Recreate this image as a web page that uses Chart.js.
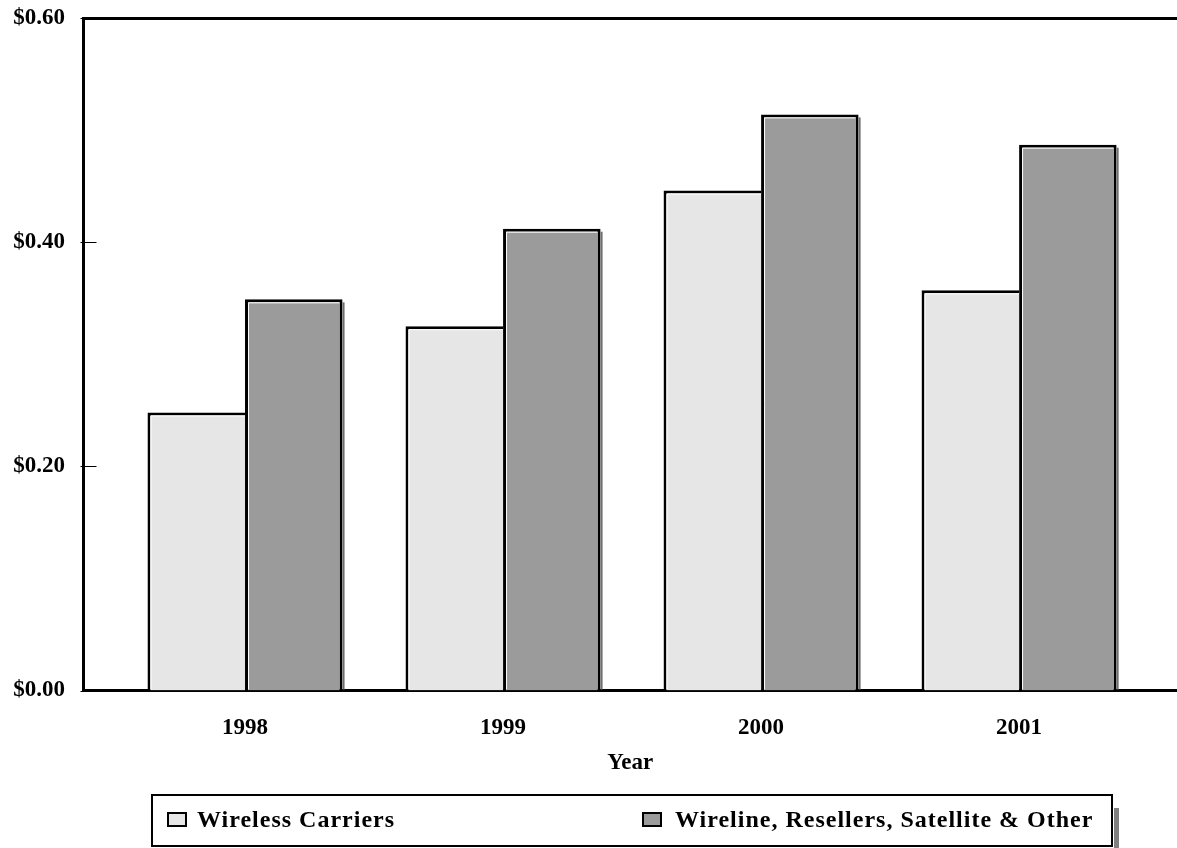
<!DOCTYPE html>
<html><head><meta charset="utf-8">
<script src="https://cdn.jsdelivr.net/npm/chart.js@4.4.1/dist/chart.umd.min.js"></script>
<style>html,body{margin:0;padding:0;background:#fff;overflow:hidden}</style>
</head><body>
<canvas id="c" width="1177" height="848"></canvas>
<script>
// ---- data ----
const years = ['1998', '1999', '2000', '2001'];
const wireless = [0.248, 0.325, 0.446, 0.357];
const wireline = [0.349, 0.412, 0.514, 0.487];
const seriesNames = ['Wireless Carriers', 'Wireline, Resellers, Satellite & Other'];
const yTickValues = [0, 0.2, 0.4, 0.6];
const axisTitle = 'Year';

// ---- style ----
const FONT = '"Liberation Serif", "Times New Roman", serif';
const lightFill = '#e6e6e6';
const darkFill = '#9b9b9b';
const X_MIN = -0.626, X_MAX = 3.612;

const barDecor = {
  id: 'barDecor',
  afterDatasetsDraw(chart) {
    const ctx = chart.ctx;
    ctx.save();
    chart.data.datasets.forEach((ds, di) => {
      const meta = chart.getDatasetMeta(di);
      meta.data.forEach(el => {
        const p = el.getProps(['x', 'y', 'base', 'width'], true);
        const left = p.x - p.width / 2, right = p.x + p.width / 2, top = p.y, base = p.base;
        if (di === 1) {
          ctx.fillStyle = '#6e6e6e';
          ctx.fillRect(right, top + 3, 2, base - top - 4);
        }
        ctx.strokeStyle = '#ffffff';
        ctx.lineWidth = 1;
        ctx.beginPath();
        ctx.moveTo(left + 3.5, base - 1);
        ctx.lineTo(left + 3.5, top + 3.5);
        ctx.lineTo(right - (di === 1 ? 3 : 0), top + 3.5);
        ctx.stroke();
      });
    });
    ctx.restore();
  }
};

const axisExtras = {
  id: 'axisExtras',
  afterDraw(chart) {
    const ctx = chart.ctx, ys = chart.scales.y, a = chart.chartArea;
    ctx.save();
    ctx.strokeStyle = '#000';
    ctx.lineWidth = 1;
    yTickValues.forEach(v => {
      const py = Math.round(ys.getPixelForValue(v)) + 0.5;
      ctx.beginPath();
      ctx.moveTo(a.left - 3, py);
      ctx.lineTo(a.left + 13, py);
      ctx.stroke();
    });
    ctx.restore();
  }
};

const boxLegend = {
  id: 'boxLegend',
  afterDraw(chart) {
    const ctx = chart.ctx;
    ctx.save();
    ctx.fillStyle = '#808080';
    ctx.fillRect(1114, 808, 5, 40);
    ctx.strokeStyle = '#000';
    ctx.lineWidth = 2;
    ctx.fillStyle = '#fff';
    ctx.fillRect(152, 795, 960, 51);
    ctx.strokeRect(152, 795, 960, 51);
    const items = [
      { boxX: 167, textX: 197 },
      { boxX: 642, textX: 675 }
    ];
    ctx.font = 'bold 24px ' + FONT;
    ctx.textBaseline = 'middle';
    ctx.textAlign = 'left';
    if ('letterSpacing' in ctx) ctx.letterSpacing = '1px';
    chart.data.datasets.forEach((ds, i) => {
      const it = items[i];
      ctx.fillStyle = ds.backgroundColor;
      ctx.fillRect(it.boxX, 812, 20, 15);
      ctx.lineWidth = 2;
      ctx.strokeStyle = '#000';
      ctx.strokeRect(it.boxX + 1, 813, 18, 13);
      ctx.fillStyle = '#000';
      ctx.fillText(seriesNames[i], it.textX, 821);
    });
    ctx.restore();
  }
};

const toPts = arr => arr.map((v, i) => ({ x: i, y: v }));

new Chart(document.getElementById('c'), {
  type: 'bar',
  data: {
    datasets: [
      { label: seriesNames[0], data: toPts(wireless), backgroundColor: lightFill, borderColor: '#000',
        borderWidth: { top: 3, left: 3, right: 0, bottom: 0 }, borderSkipped: false,
        categoryPercentage: 0.756, barPercentage: 1.0 },
      { label: seriesNames[1], data: toPts(wireline), backgroundColor: darkFill, borderColor: '#000',
        borderWidth: { top: 3, left: 3, right: 3, bottom: 0 }, borderSkipped: false,
        categoryPercentage: 0.756, barPercentage: 1.0 }
    ]
  },
  options: {
    responsive: false,
    animation: false,
    devicePixelRatio: 1,
    layout: { padding: { top: 18, right: 0, bottom: 57.5, left: 0 } },
    plugins: { legend: { display: false }, tooltip: { enabled: false } },
    scales: {
      x: {
        type: 'linear', position: 'bottom', min: X_MIN, max: X_MAX, offset: false,
        grid: { display: false, drawTicks: false },
        border: { display: true, width: 3, color: '#000' },
        afterBuildTicks: s => { s.ticks = years.map((_, i) => ({ value: i })); },
        ticks: {
          color: '#000', font: { family: FONT, size: 23, weight: 'bold' }, padding: 24,
          maxRotation: 0, autoSkip: false,
          callback: v => years[v] !== undefined ? years[v] : ''
        },
        title: { display: true, text: axisTitle, color: '#000',
          font: { family: FONT, size: 23, weight: 'bold' }, padding: { top: 0, bottom: 14 } },
        afterFit: s => { s.height = 100; s.paddingLeft = 0; s.paddingRight = 0; }
      },
      xTop: {
        type: 'linear', position: 'top', min: X_MIN, max: X_MAX,
        grid: { display: false, drawTicks: false },
        ticks: { display: false },
        border: { display: true, width: 3, color: '#000' },
        afterFit: s => { s.height = 0; s.paddingLeft = 0; s.paddingRight = 0; }
      },
      y: {
        min: 0, max: 0.6,
        grid: { display: false, drawTicks: false },
        border: { display: true, width: 3, color: '#000' },
        afterBuildTicks: s => { s.ticks = yTickValues.map(v => ({ value: v })); },
        ticks: {
          color: '#000', font: { family: FONT, size: 23, weight: 'bold' }, padding: 18.5,
          callback: v => '$' + Number(v).toFixed(2)
        },
        afterFit: s => { s.width = 83.5; s.paddingTop = 0; s.paddingBottom = 0; }
      }
    }
  },
  plugins: [barDecor, axisExtras, boxLegend]
});
</script>
</body></html>
